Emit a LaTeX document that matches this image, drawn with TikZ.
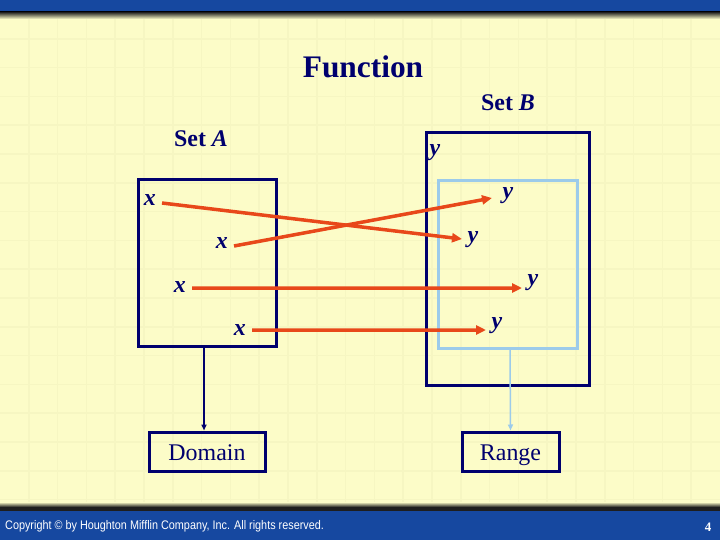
\documentclass[tikz,border=0pt]{standalone}
\usepackage{fontspec}
\setmainfont{Liberation Serif}
\newfontfamily\footfont{Liberation Sans}
\usetikzlibrary{arrows.meta}
\definecolor{bg}{RGB}{252,252,200}
\definecolor{gridc}{RGB}{246,246,194}
\definecolor{barblue}{RGB}{22,72,160}
\definecolor{shadowc}{RGB}{30,30,30}
\definecolor{navy}{RGB}{0,0,110}
\definecolor{redor}{RGB}{232,72,26}
\definecolor{lblue}{RGB}{156,203,234}
\begin{document}
\begin{tikzpicture}[x=1bp,y=-1bp,
  xlbl/.style={font=\fontsize{24}{24}\selectfont\bfseries\itshape, text=navy, inner ysep=0pt, inner xsep=6bp},
  ylbl/.style={font=\fontsize{24}{24}\selectfont\bfseries\itshape, text=navy, inner ysep=0pt, inner xsep=5.5bp},
  settitle/.style={font=\fontsize{24}{24}\selectfont\bfseries, text=navy, inner sep=0pt},
  setbox/.style={draw=navy, line width=3bp, minimum width=#1, inner sep=0pt},
  tagbox/.style={draw=navy, line width=3bp, font=\fontsize{24}{24}\selectfont, text=navy, minimum height=39bp, inner sep=0pt, text height=19bp, text depth=2bp},
  maparrow/.style={draw=redor, line width=3.5bp, -{Triangle[length=10bp,width=9bp]}},
  connector/.style={line width=1.5bp, -{Triangle[length=6bp,width=5bp]}}
]
\useasboundingbox (0,0) rectangle (720,540);
% background
\fill[bg] (0,0) rectangle (720,540);
\foreach \i in {1,...,24} \draw[gridc, line width=1.5bp] (\i*28.8,17) -- (\i*28.8,505);
\foreach \j in {1,...,17} \draw[gridc, line width=1.5bp] (0,\j*28.8+10) -- (720,\j*28.8+10);
% top bar
\fill[barblue] (0,0) rectangle (720,12);
\shade[top color=shadowc, bottom color=bg] (0,12) rectangle (720,19);
% bottom bar
\shade[top color=bg, bottom color=shadowc] (0,502) rectangle (720,507);
\fill[shadowc] (0,507) rectangle (720,511);
\fill[barblue] (0,511) rectangle (720,540);
\node[anchor=west, text=white, inner sep=0pt] (copy) at (5,526)
  {\scalebox{0.87}[1]{\footfont\fontsize{12.5}{13}\selectfont Copyright \textcopyright\ by Houghton Mifflin Company, Inc. All rights reserved.}};
\node[text=white, inner sep=0pt, font=\fontsize{13}{13}\selectfont\bfseries] (pnum) at (708,527) {4};
% titles
\node[text=navy, inner sep=0pt, font=\fontsize{31.5}{32}\selectfont\bfseries] (title) at (363,67) {Function};
\node[settitle] (setA) at (201,139) {Set \textit{A}};
\node[settitle] (setB) at (508,103) {Set \textit{B}};
% set boxes
\node[setbox=138bp, minimum height=166bp] (boxA) at (207,263) {};
\node[setbox=163bp, minimum height=252bp] (boxB) at (507.5,259) {};
\node[draw=lblue, line width=3bp, minimum width=139bp, minimum height=167bp, inner sep=0pt] (inner) at (507.5,264.5) {};
% labels
\node[xlbl, anchor=east] (x1) at (162,200) {x};
\node[xlbl, anchor=east] (x2) at (234,243) {x};
\node[xlbl, anchor=east] (x3) at (192,287) {x};
\node[xlbl, anchor=east] (x4) at (252,330) {x};
\node[ylbl] (y0) at (435,153) {y};
\node[ylbl, anchor=west] (y1) at (497,196) {y};
\node[ylbl, anchor=west] (y2) at (462,240) {y};
\node[ylbl, anchor=west] (y3) at (522,283) {y};
\node[ylbl, anchor=west] (y4) at (486,326) {y};
% mapping arrows
\draw[maparrow] ([yshift=-3bp]x1.east) -- ([yshift=1bp]y2.west);
\draw[maparrow] ([yshift=-3bp]x2.east) -- ([xshift=-5bp,yshift=-2bp]y1.west);
\draw[maparrow] ([yshift=-1bp]x3.east) -- ([yshift=-5bp]y3.west);
\draw[maparrow] (x4.east) -- ([yshift=-4bp]y4.west);
% domain / range
\node[tagbox, minimum width=116bp] (domain) at (207,451.5) {Domain};
\node[tagbox, minimum width=97bp] (range) at (510.5,451.5) {Range};
\draw[connector, navy] ([xshift=-3bp]boxA.south) -- ([xshift=-3bp]domain.north);
\draw[connector, lblue] ([xshift=2.5bp]inner.south) -- (range.north);
\end{tikzpicture}
\end{document}
